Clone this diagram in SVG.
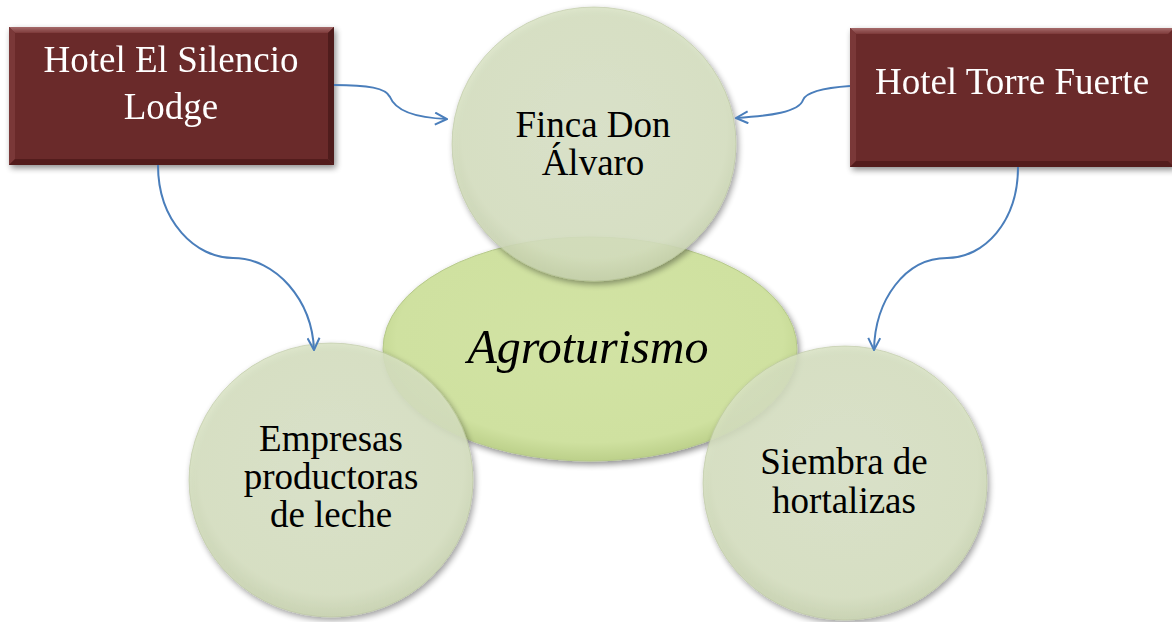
<svg xmlns="http://www.w3.org/2000/svg" width="1172" height="622" viewBox="0 0 1172 622">
  <defs>
    <filter id="shadow" x="-10%" y="-10%" width="130%" height="130%">
      <feGaussianBlur in="SourceAlpha" stdDeviation="3"/>
      <feOffset dx="2" dy="3" result="b"/>
      <feComponentTransfer><feFuncA type="linear" slope="0.45"/></feComponentTransfer>
      <feMerge><feMergeNode/><feMergeNode in="SourceGraphic"/></feMerge>
    </filter>
    <radialGradient id="circGrad" cx="50%" cy="45%" r="55%">
      <stop offset="0%" stop-color="#dbe4c8"/>
      <stop offset="85%" stop-color="#d8e2c2"/>
      <stop offset="100%" stop-color="#c9d4b0"/>
    </radialGradient>
    <radialGradient id="ellGrad" cx="50%" cy="45%" r="55%">
      <stop offset="0%" stop-color="#d2e3a4"/>
      <stop offset="85%" stop-color="#cfe1a0"/>
      <stop offset="100%" stop-color="#bcd08a"/>
    </radialGradient>
    <linearGradient id="bevTop" x1="0" y1="0" x2="0" y2="1">
      <stop offset="0%" stop-color="#a56a6a"/>
      <stop offset="100%" stop-color="#7d3a3a"/>
    </linearGradient>
    <marker id="arrow" viewBox="0 0 14 14" refX="13" refY="7" markerWidth="14" markerHeight="14" markerUnits="userSpaceOnUse" orient="auto">
      <path d="M1,1 L13,7 L1,13" fill="none" stroke="#4a7ebb" stroke-width="2"/>
    </marker>
    <style>
      .box { fill: #6a2a2a; }
      .bev-l { fill: #7a3838; }
      .bev-r { fill: #4f1c1c; }
      .bev-b { fill: #521e1e; }
      .circle { fill: url(#circGrad); fill-opacity: 0.84; stroke: #b9c59e; stroke-width: 1; stroke-opacity: 0.6; }
      .ell { fill: url(#ellGrad); stroke: #b6c98a; stroke-width: 1; }
      .btxt { font-family: "Liberation Serif", "Times New Roman", serif; font-size: 37px; fill: #ffffff; text-anchor: middle; }
      .ctxt { font-family: "Liberation Serif", "Times New Roman", serif; font-size: 37px; fill: #000000; text-anchor: middle; }
      .itxt { font-family: "Liberation Serif", "Times New Roman", serif; font-size: 48px; font-style: italic; fill: #000000; text-anchor: middle; }
      .conn { fill: none; stroke: #4a7ebb; stroke-width: 2; marker-end: url(#arrow); }
    </style>
  </defs>
  <rect width="1172" height="622" fill="#ffffff"/>

  <g id="node-agroturismo" filter="url(#shadow)">
    <ellipse class="ell" cx="590" cy="349" rx="207" ry="112"/>
    <text class="itxt" x="588" y="363">Agroturismo</text>
  </g>

  <g id="node-finca">
    <ellipse class="circle" cx="594" cy="144" rx="142" ry="137" filter="url(#shadow)"/>
    <text class="ctxt" x="593" y="137">Finca Don</text>
    <text class="ctxt" x="593" y="175">Álvaro</text>
  </g>

  <g id="node-empresas">
    <ellipse class="circle" cx="331" cy="480" rx="142" ry="137" filter="url(#shadow)"/>
    <text class="ctxt" x="331" y="451">Empresas</text>
    <text class="ctxt" x="331" y="489">productoras</text>
    <text class="ctxt" x="331" y="527">de leche</text>
  </g>

  <g id="node-siembra">
    <ellipse class="circle" cx="845" cy="483" rx="142" ry="137" filter="url(#shadow)"/>
    <text class="ctxt" x="844" y="474">Siembra de</text>
    <text class="ctxt" x="844" y="513">hortalizas</text>
  </g>

  <g id="node-silencio" filter="url(#shadow)">
    <rect class="box" x="9" y="27" width="325" height="138"/>
    <polygon points="9,27 334,27 328,33 15,33" fill="url(#bevTop)"/>
    <polygon class="bev-l" points="9,27 15,33 15,159 9,165"/>
    <polygon class="bev-r" points="334,27 334,165 328,159 328,33"/>
    <polygon class="bev-b" points="9,165 15,159 328,159 334,165"/>
    <text class="btxt" x="171" y="72">Hotel El Silencio</text>
    <text class="btxt" x="171" y="119">Lodge</text>
  </g>

  <g id="node-torre" filter="url(#shadow)">
    <rect class="box" x="850" y="28" width="324" height="139"/>
    <polygon points="850,28 1174,28 1168,34 856,34" fill="url(#bevTop)"/>
    <polygon class="bev-l" points="850,28 856,34 856,161 850,167"/>
    <polygon class="bev-b" points="850,167 856,161 1168,161 1174,167"/>
    <text class="btxt" x="1012" y="94">Hotel Torre Fuerte</text>
  </g>

  <g id="connectors">
    <path class="conn" d="M334,85 C368,85 386,88 390,97 C396,112 420,118 447,119"/>
    <path class="conn" d="M850,86 C822,88 806,92 803,100 C799,112 770,116 736,118"/>
    <path class="conn" d="M158,165 C158,222 196,258 233,258 C276,258 312,300 314,350"/>
    <path class="conn" d="M1018,167 C1018,222 984,258 947,258 C905,258 875,300 874,350"/>
  </g>
</svg>
